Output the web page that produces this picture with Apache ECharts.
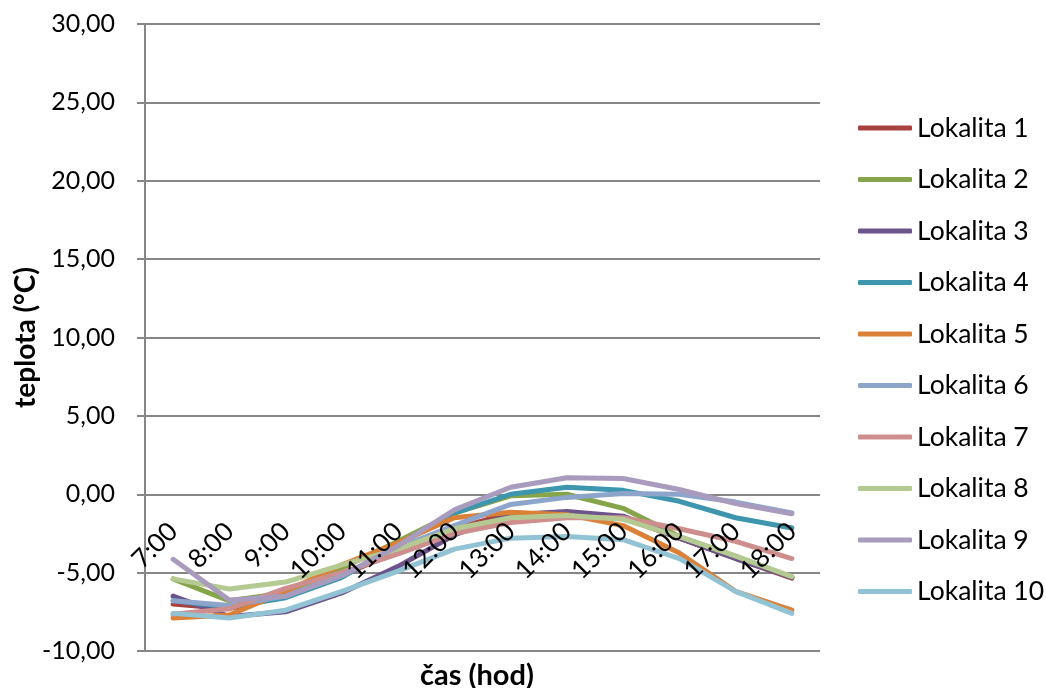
<!DOCTYPE html>
<html>
<head>
<meta charset="utf-8">
<script src="https://cdn.jsdelivr.net/npm/echarts@6/dist/echarts.min.js"></script>
<style>
  html, body { margin: 0; padding: 0; background: #fff; }
  #chart { width: 1046px; height: 688px; }
</style>
</head>
<body>
<div id="chart"></div>
<script>
// Hourly temperatures at ten sites
const hours = ['7:00', '8:00', '9:00', '10:00', '11:00', '12:00', '13:00', '14:00', '15:00', '16:00', '17:00', '18:00'];

const lokalita1  = [-7.0, -7.3, -6.5, -5.2, -3.6, -2.2, -1.2, -1.3, -1.5, -2.8, -4.1, -5.35];
const lokalita2  = [-5.4, -6.8, -6.3, -4.7, -3.0, -1.2, -0.1,  0.0, -0.9, -2.7, -3.95, -5.3];
const lokalita3  = [-6.5, -7.8, -7.5, -6.3, -4.6, -2.6, -1.3, -1.1, -1.4, -2.8, -4.1, -5.3];
const lokalita4  = [-6.8, -7.2, -6.6, -5.3, -3.2, -1.2,  0.0,  0.45, 0.25, -0.45, -1.5, -2.15];
const lokalita5  = [-7.9, -7.7, -6.2, -4.5, -3.1, -1.5, -1.15, -1.3, -2.0, -3.75, -6.2, -7.4];
const lokalita6  = [-6.8, -7.1, -6.5, -5.2, -3.4, -2.0, -0.65, -0.2, 0.05, 0.0, -0.5, -1.2];
const lokalita7  = [-7.65, -7.3, -6.0, -5.0, -3.8, -2.5, -1.8, -1.5, -1.5, -2.2, -3.0, -4.1];
const lokalita8  = [-5.4, -6.05, -5.6, -4.5, -3.5, -2.2, -1.5, -1.35, -1.6, -2.7, -3.95, -5.25];
const lokalita9  = [-4.15, -6.75, -6.5, -5.2, -3.3, -1.0, 0.45, 1.05, 1.0, 0.3, -0.6, -1.25];
const lokalita10 = [-7.6, -7.9, -7.4, -6.2, -4.9, -3.5, -2.8, -2.7, -2.9, -4.1, -6.2, -7.6];

const seriesNames = ['Lokalita 1', 'Lokalita 2', 'Lokalita 3', 'Lokalita 4', 'Lokalita 5',
                     'Lokalita 6', 'Lokalita 7', 'Lokalita 8', 'Lokalita 9', 'Lokalita 10'];
const seriesData = [lokalita1, lokalita2, lokalita3, lokalita4, lokalita5,
                    lokalita6, lokalita7, lokalita8, lokalita9, lokalita10];
const seriesColors = ['#A9423F', '#86A44A', '#6E548D', '#3D96AE', '#DA8137',
                      '#8EA5CB', '#CE8E8D', '#B5CA92', '#A99BBD', '#92C3D4'];

const FONT = 'Lato, "Open Sans", sans-serif';

const Y_MIN = -10, Y_MAX = 30;
const GRID = { left: 145, right: 226, top: 24, bottom: 37 };
const plotHeight = 688 - GRID.top - GRID.bottom;
// category labels hang from the 0 °C line, not from the bottom of the plot
const xAxisShift = -plotHeight * (0 - Y_MIN) / (Y_MAX - Y_MIN);

const chart = echarts.init(document.getElementById('chart'), null, { renderer: 'canvas' });

chart.setOption({
  animation: false,
  backgroundColor: '#ffffff',
  color: seriesColors,
  grid: Object.assign({ containLabel: false, outerBoundsMode: 'none' }, GRID),
  legend: {
    orient: 'vertical',
    left: 853,
    top: 108,
    icon: 'roundRect',
    itemWidth: 54,
    itemHeight: 5,
    itemGap: 21.5,
    textStyle: { fontFamily: FONT, fontSize: 26.5, color: '#000', lineHeight: 30 },
    data: seriesNames
  },
  // x-axis title sits below the plot area
  graphic: [{
    type: 'text',
    left: 420,
    top: 661,
    style: {
      text: 'čas (hod)',
      fontFamily: FONT,
      fontSize: 29,
      fontWeight: 'bold',
      fill: '#000',
      align: 'left',
      verticalAlign: 'top'
    }
  }],
  xAxis: {
    type: 'category',
    data: hours,
    boundaryGap: true,
    z: 10,
    offset: xAxisShift,
    axisLine: { show: false, onZero: false },
    axisTick: { show: false },
    axisLabel: {
      rotate: 45,
      margin: 33,
      interval: 0,
      fontFamily: FONT,
      fontSize: 26,
      color: '#000'
    }
  },
  yAxis: {
    type: 'value',
    min: Y_MIN,
    max: Y_MAX,
    interval: 5,
    axisLine: { show: true, lineStyle: { color: '#868686', width: 2 } },
    axisTick: { show: true, inside: false, length: 8, lineStyle: { color: '#868686', width: 2 } },
    splitLine: { show: true, lineStyle: { color: '#868686', width: 2 } },
    axisLabel: {
      margin: 30,
      fontFamily: FONT,
      fontSize: 25,
      color: '#000',
      formatter: v => v.toFixed(2).replace('.', ',')
    },
    name: 'teplota (°C)',
    nameLocation: 'middle',
    nameGap: 105,
    nameRotate: 90,
    nameMoveOverlap: false,
    nameTextStyle: { fontFamily: FONT, fontSize: 28, fontWeight: 'bold', color: '#000' }
  },
  series: seriesNames.map((name, i) => ({
    name: name,
    type: 'line',
    data: seriesData[i],
    symbol: 'none',
    showSymbol: false,
    lineStyle: { width: 5, color: seriesColors[i], cap: 'round', join: 'round' },
    itemStyle: { color: seriesColors[i] }
  }))
});
</script>
</body>
</html>
